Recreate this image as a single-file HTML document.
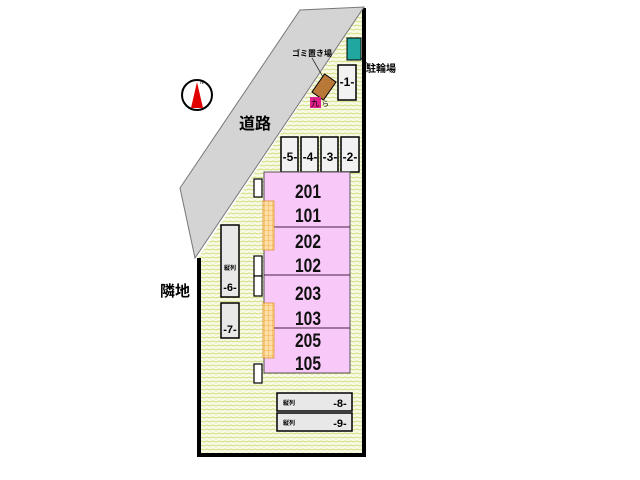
<!DOCTYPE html>
<html><head><meta charset="utf-8"><style>
html,body{margin:0;padding:0;background:#fff;}
svg{display:block;}
text{font-family:"Liberation Sans","Noto Sans CJK JP",sans-serif;}
</style></head><body>
<svg width="640" height="480" viewBox="0 0 640 480" xmlns="http://www.w3.org/2000/svg">
<defs>
<pattern id="st" width="6" height="4" patternUnits="userSpaceOnUse">
<rect width="6" height="4" fill="#f8f9e6"/>
<path d="M0 2 L3 1 L6 2" stroke="#d2de7c" stroke-width="1" fill="none"/>
</pattern>
<pattern id="gr" width="4" height="5" patternUnits="userSpaceOnUse">
<rect width="4" height="5" fill="#fde0a8"/>
<path d="M0 0H4M0 0V5" stroke="#f0a030" stroke-width="0.8"/>
</pattern>
</defs>
<polygon points="198,258 364,8 364,455 198,455" fill="url(#st)"/>
<polyline points="199,258 199,455 364,455 364,8" fill="none" stroke="#000" stroke-width="4"/>
<polygon points="180,188 300,10 364,7 195,258" fill="#d4d4d4" stroke="#777" stroke-width="1"/>
<text x="255" y="129" font-size="16" font-weight="bold" text-anchor="middle">道路</text>
<circle cx="197" cy="95" r="15" fill="#fff" stroke="#000" stroke-width="2"/>
<polygon points="197,82 191,108 203,108" fill="#e00000"/>
<text x="200" y="84" font-size="5">N</text>
<text x="160" y="296" font-size="15" font-weight="bold">隣地</text>
<text x="366" y="72" font-size="10" font-weight="bold">駐輪場</text>
<line x1="357" y1="55" x2="368" y2="64" stroke="#000" stroke-width="0.7"/>
<text x="292" y="56" font-size="8" font-weight="bold">ゴミ置き場</text>
<line x1="312" y1="58" x2="323" y2="77" stroke="#000" stroke-width="0.7"/>
<rect x="347" y="38" width="14" height="22" fill="#20a8a0" stroke="#000"/>
<rect x="317" y="76" width="14" height="22" fill="#b87838" stroke="#000" transform="rotate(35 324 87)"/>
<rect x="310" y="97" width="11" height="11" fill="#e0208a"/>
<text x="311" y="106" font-size="8" fill="#000">九</text>
<text x="322" y="106" font-size="7">ら</text>
<g fill="#f2f2f2" stroke="#000" stroke-width="1.5">
<rect x="338" y="65" width="18" height="35"/>
<rect x="281" y="137" width="17" height="35"/>
<rect x="301" y="137" width="17" height="35"/>
<rect x="321" y="137" width="17" height="35"/>
<rect x="341" y="137" width="18" height="35"/>
</g>
<g font-size="12" font-weight="bold" text-anchor="middle">
<text x="347" y="86">-1-</text>
<text x="290" y="161">-5-</text>
<text x="310" y="161">-4-</text>
<text x="330" y="161">-3-</text>
<text x="350" y="161">-2-</text>
</g>
<rect x="264" y="172" width="86" height="201" fill="#f8c8f8" stroke="#555" stroke-width="1"/>
<g stroke="#442244" stroke-width="1"><line x1="264" y1="227" x2="350" y2="227"/><line x1="264" y1="275" x2="350" y2="275"/><line x1="264" y1="328" x2="350" y2="328"/></g>
<g font-size="19" font-weight="bold" text-anchor="middle" fill="#111" transform="translate(308 0) scale(0.82 1)">
<text x="0" y="198">201</text><text x="0" y="222">101</text>
<text x="0" y="248">202</text><text x="0" y="272">102</text>
<text x="0" y="300">203</text><text x="0" y="325">103</text>
<text x="0" y="347">205</text><text x="0" y="370">105</text>
</g>
<rect x="263" y="201" width="11" height="49" fill="url(#gr)" stroke="#e09030" stroke-width="0.8"/>
<rect x="263" y="303" width="11" height="55" fill="url(#gr)" stroke="#e09030" stroke-width="0.8"/>
<g fill="#fff" stroke="#000" stroke-width="1.2">
<rect x="254" y="179" width="8" height="18"/>
<rect x="254" y="256" width="8" height="20"/>
<rect x="254" y="276" width="8" height="20"/>
<rect x="254" y="364" width="8" height="19"/>
</g>
<g fill="#e8e8e8" stroke="#000" stroke-width="1.5">
<rect x="221" y="225" width="18" height="72"/>
<rect x="221" y="303" width="18" height="35"/>
<rect x="277" y="393" width="75" height="18"/>
<rect x="277" y="413" width="75" height="18"/>
</g>
<g font-weight="bold">
<text x="224" y="270" font-size="6">縦列</text>
<text x="230" y="291" font-size="11" text-anchor="middle">-6-</text>
<text x="230" y="333" font-size="11" text-anchor="middle">-7-</text>
<text x="283" y="405" font-size="6">縦列</text>
<text x="340" y="407" font-size="11" text-anchor="middle">-8-</text>
<text x="283" y="425" font-size="6">縦列</text>
<text x="340" y="427" font-size="11" text-anchor="middle">-9-</text>
</g>
</svg>
</body></html>
